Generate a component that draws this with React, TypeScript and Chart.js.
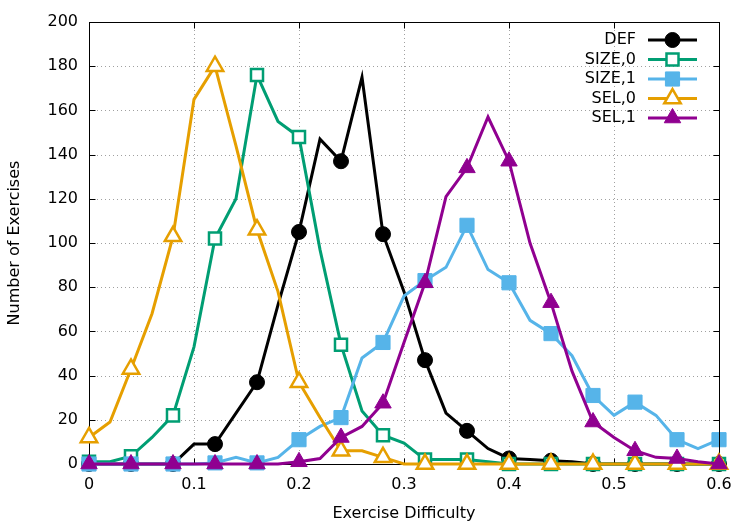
import React, { useEffect, useRef } from 'react';
import { Chart, registerables } from 'chart.js';

Chart.register(...registerables);

const difficulty = [0, 0.02, 0.04, 0.06, 0.08, 0.1, 0.12, 0.14, 0.16, 0.18, 0.2, 0.22, 0.24, 0.26, 0.28, 0.3, 0.32, 0.34, 0.36, 0.38, 0.4, 0.42, 0.44, 0.46, 0.48, 0.5, 0.52, 0.54, 0.56, 0.58, 0.6];
const defCounts = [0, 0, 0, 0, 0, 9, 9, 23, 37, 72, 105, 147, 137, 175, 104, 78, 47, 23, 15, 7, 2.5, 2, 1.5, 1, 0, 0, 0, 0, 0, 0, 0];
const size0Counts = [1, 1, 3.5, 12, 22, 53, 102, 120, 176, 155, 148, 97, 54, 24, 13, 9.5, 2, 2, 2, 1, 0, 0, 0, 0, 0, 0, 0, 0, 0, 0, 0];
const size1Counts = [0, 0, 0, 0, 0, 0, 0.5, 3, 0.5, 3, 11, 17, 21, 48, 55, 76, 83, 89, 108, 88, 82, 65, 59, 49, 31, 22, 28, 22, 11, 7, 11];
const sel0Counts = [12, 19, 43, 68, 103, 165, 180, 144, 106, 78, 37, 21, 6, 6, 3, 0, 0, 0, 0, 0, 0, 0, 0, 0, 0, 0, 0, 0, 0, 0, 0];
const sel1Counts = [0, 0, 0, 0, 0, 0, 0, 0, 0, 0, 1, 2.5, 12, 17, 27.5, 55, 82, 121, 134, 157, 137, 100, 73, 42, 19, 12, 6, 3, 2.5, 1, 0];

const seriesNames = ['DEF', 'SIZE,0', 'SIZE,1', 'SEL,0', 'SEL,1'];
const xTitle = 'Exercise Difficulty';
const yTitle = 'Number of Exercises';

const FONT = "'DejaVu Sans', 'Liberation Sans', sans-serif";

type Marker = { style: string; r: number; color: string; open: boolean };
const markers: Marker[] = [
  { style: 'circle', r: 7.5, color: '#000000', open: false },
  { style: 'rect', r: 8.5, color: '#009e73', open: true },
  { style: 'rect', r: 10, color: '#56b4e9', open: false },
  { style: 'triangle', r: 9.5, color: '#e69f00', open: true },
  { style: 'triangle', r: 9.5, color: '#900090', open: false },
];

function drawMarker(ctx: CanvasRenderingContext2D, m: Marker, x: number, y: number) {
  ctx.save();
  ctx.beginPath();
  if (m.style === 'circle') {
    ctx.arc(x, y, m.r, 0, Math.PI * 2);
  } else if (m.style === 'rect') {
    const s = Math.SQRT1_2 * m.r;
    ctx.rect(x - s, y - s, 2 * s, 2 * s);
  } else {
    let rad = 0;
    ctx.moveTo(x + Math.sin(rad) * m.r, y - Math.cos(rad) * m.r);
    rad += (2 * Math.PI) / 3;
    ctx.lineTo(x + Math.sin(rad) * m.r, y - Math.cos(rad) * m.r);
    rad += (2 * Math.PI) / 3;
    ctx.lineTo(x + Math.sin(rad) * m.r, y - Math.cos(rad) * m.r);
    ctx.closePath();
  }
  if (m.open) {
    ctx.fillStyle = '#ffffff';
    ctx.fill();
    ctx.lineWidth = 2.5;
  } else {
    ctx.fillStyle = m.color;
    ctx.fill();
    ctx.lineWidth = 1;
  }
  ctx.strokeStyle = m.color;
  ctx.stroke();
  ctx.restore();
}

function drawBorder(chart: any) {
  const { ctx, chartArea: a, scales } = chart;
  const xs = scales.x, ys = scales.y;
  ctx.save();
  ctx.strokeStyle = '#000000';
  ctx.lineWidth = 1;
  ctx.setLineDash([]);
  const L = Math.round(a.left) + 0.5, R = Math.round(a.right) + 0.5;
  const T = Math.round(a.top) + 0.5, B = Math.round(a.bottom) + 0.5;
  ctx.strokeRect(L, T, R - L, B - T);
  const tl = 6;
  xs.ticks.forEach((t: any) => {
    const px = Math.round(xs.getPixelForValue(t.value)) + 0.5;
    ctx.beginPath();
    ctx.moveTo(px, B); ctx.lineTo(px, B - tl);
    ctx.moveTo(px, T); ctx.lineTo(px, T + tl);
    ctx.stroke();
  });
  ys.ticks.forEach((t: any) => {
    const py = Math.round(ys.getPixelForValue(t.value)) + 0.5;
    ctx.beginPath();
    ctx.moveTo(L, py); ctx.lineTo(L + tl, py);
    ctx.moveTo(R, py); ctx.lineTo(R - tl, py);
    ctx.stroke();
  });
  ctx.restore();
}

const gridPlugin = {
  id: 'gnuGrid',
  beforeDatasetsDraw(chart: any) {
    const { ctx, chartArea: a, scales } = chart;
    const xs = scales.x, ys = scales.y;
    ctx.save();
    ctx.strokeStyle = '#a0a0a0';
    ctx.lineWidth = 1;
    ctx.setLineDash([1, 3]);
    xs.ticks.forEach((t: any) => {
      const px = Math.round(xs.getPixelForValue(t.value)) + 0.5;
      if (px <= a.left + 1 || px >= a.right - 1) return;
      ctx.beginPath();
      ctx.moveTo(px, a.top);
      ctx.lineTo(px, a.bottom);
      ctx.stroke();
    });
    ys.ticks.forEach((t: any) => {
      const py = Math.round(ys.getPixelForValue(t.value)) + 0.5;
      if (py <= a.top + 1 || py >= a.bottom - 1) return;
      ctx.beginPath();
      ctx.moveTo(a.left, py);
      ctx.lineTo(a.right, py);
      ctx.stroke();
    });
    ctx.restore();
  },
  afterDatasetDraw(chart: any, args: any) {
    if (args.index === 2) drawBorder(chart);
  },
  afterDatasetsDraw(chart: any) {
    const { ctx } = chart;
    ctx.save();
    const rowsY = [40, 59.5, 79, 98.5, 118];
    ctx.font = `16px ${FONT}`;
    ctx.textAlign = 'right';
    ctx.textBaseline = 'middle';
    seriesNames.forEach((name, i) => {
      const y = rowsY[i];
      ctx.fillStyle = '#000000';
      ctx.fillText(name, 636, y);
      ctx.beginPath();
      ctx.strokeStyle = markers[i].color;
      ctx.lineWidth = 3;
      ctx.moveTo(648, y);
      ctx.lineTo(697, y);
      ctx.stroke();
      drawMarker(ctx, markers[i], 672.5, y);
    });
    ctx.restore();
  },
};

const seriesValues = [defCounts, size0Counts, size1Counts, sel0Counts, sel1Counts];

export default function App() {
  const ref = useRef<HTMLCanvasElement | null>(null);
  useEffect(() => {
    if (!ref.current) return;
    const datasets = seriesNames.map((name, i) => {
      const m = markers[i];
      return {
        label: name,
        data: difficulty.map((x, j) => ({ x, y: seriesValues[i][j] })),
        borderColor: m.color,
        backgroundColor: m.color,
        borderWidth: 3,
        pointStyle: m.style,
        pointRadius: (c: any) => (c.dataIndex % 2 === 0 ? m.r : 0),
        pointBorderWidth: m.open ? 2.5 : 1,
        pointBackgroundColor: m.open ? '#ffffff' : m.color,
        pointBorderColor: m.color,
        tension: 0,
        clip: false as any,
        order: 5 - i,
      };
    });
    const chart = new Chart(ref.current, {
      type: 'line',
      data: { datasets },
      options: {
        animation: false,
        responsive: false,
        maintainAspectRatio: false,
        layout: { padding: { left: 0, right: 31, top: 22, bottom: 0 } },
        plugins: { legend: { display: false }, tooltip: { enabled: false } },
        scales: {
          x: {
            type: 'linear',
            min: 0,
            max: 0.6,
            ticks: {
              stepSize: 0.1,
              padding: 3,
              color: '#000000',
              font: { family: FONT, size: 16 },
              maxRotation: 0,
              callback: (v: any) => String(Number(Number(v).toFixed(1))),
            },
            grid: { display: false },
            border: { display: false },
            title: {
              display: true,
              text: xTitle,
              color: '#000000',
              font: { family: FONT, size: 16, lineHeight: 1.2 },
              padding: { top: 0, bottom: 2 },
            },
            afterFit: (s: any) => { s.height = 61; },
          },
          y: {
            type: 'linear',
            min: 0,
            max: 200,
            ticks: {
              stepSize: 20,
              padding: 3,
              color: '#000000',
              font: { family: FONT, size: 16 },
            },
            grid: { display: false },
            border: { display: false },
            title: {
              display: true,
              text: yTitle,
              color: '#000000',
              font: { family: FONT, size: 16, lineHeight: 1.2 },
              padding: { top: 5, bottom: 0 },
            },
            afterFit: (s: any) => { s.width = 89; },
          },
        },
      },
      plugins: [gridPlugin],
    } as any);
    return () => chart.destroy();
  }, []);
  return (
    <div style={{ position: 'absolute', left: 0, top: 0, width: 750, height: 525, background: '#ffffff' }}>
      <canvas ref={ref} width={750} height={525} style={{ width: 750, height: 525 }} />
    </div>
  );
}
